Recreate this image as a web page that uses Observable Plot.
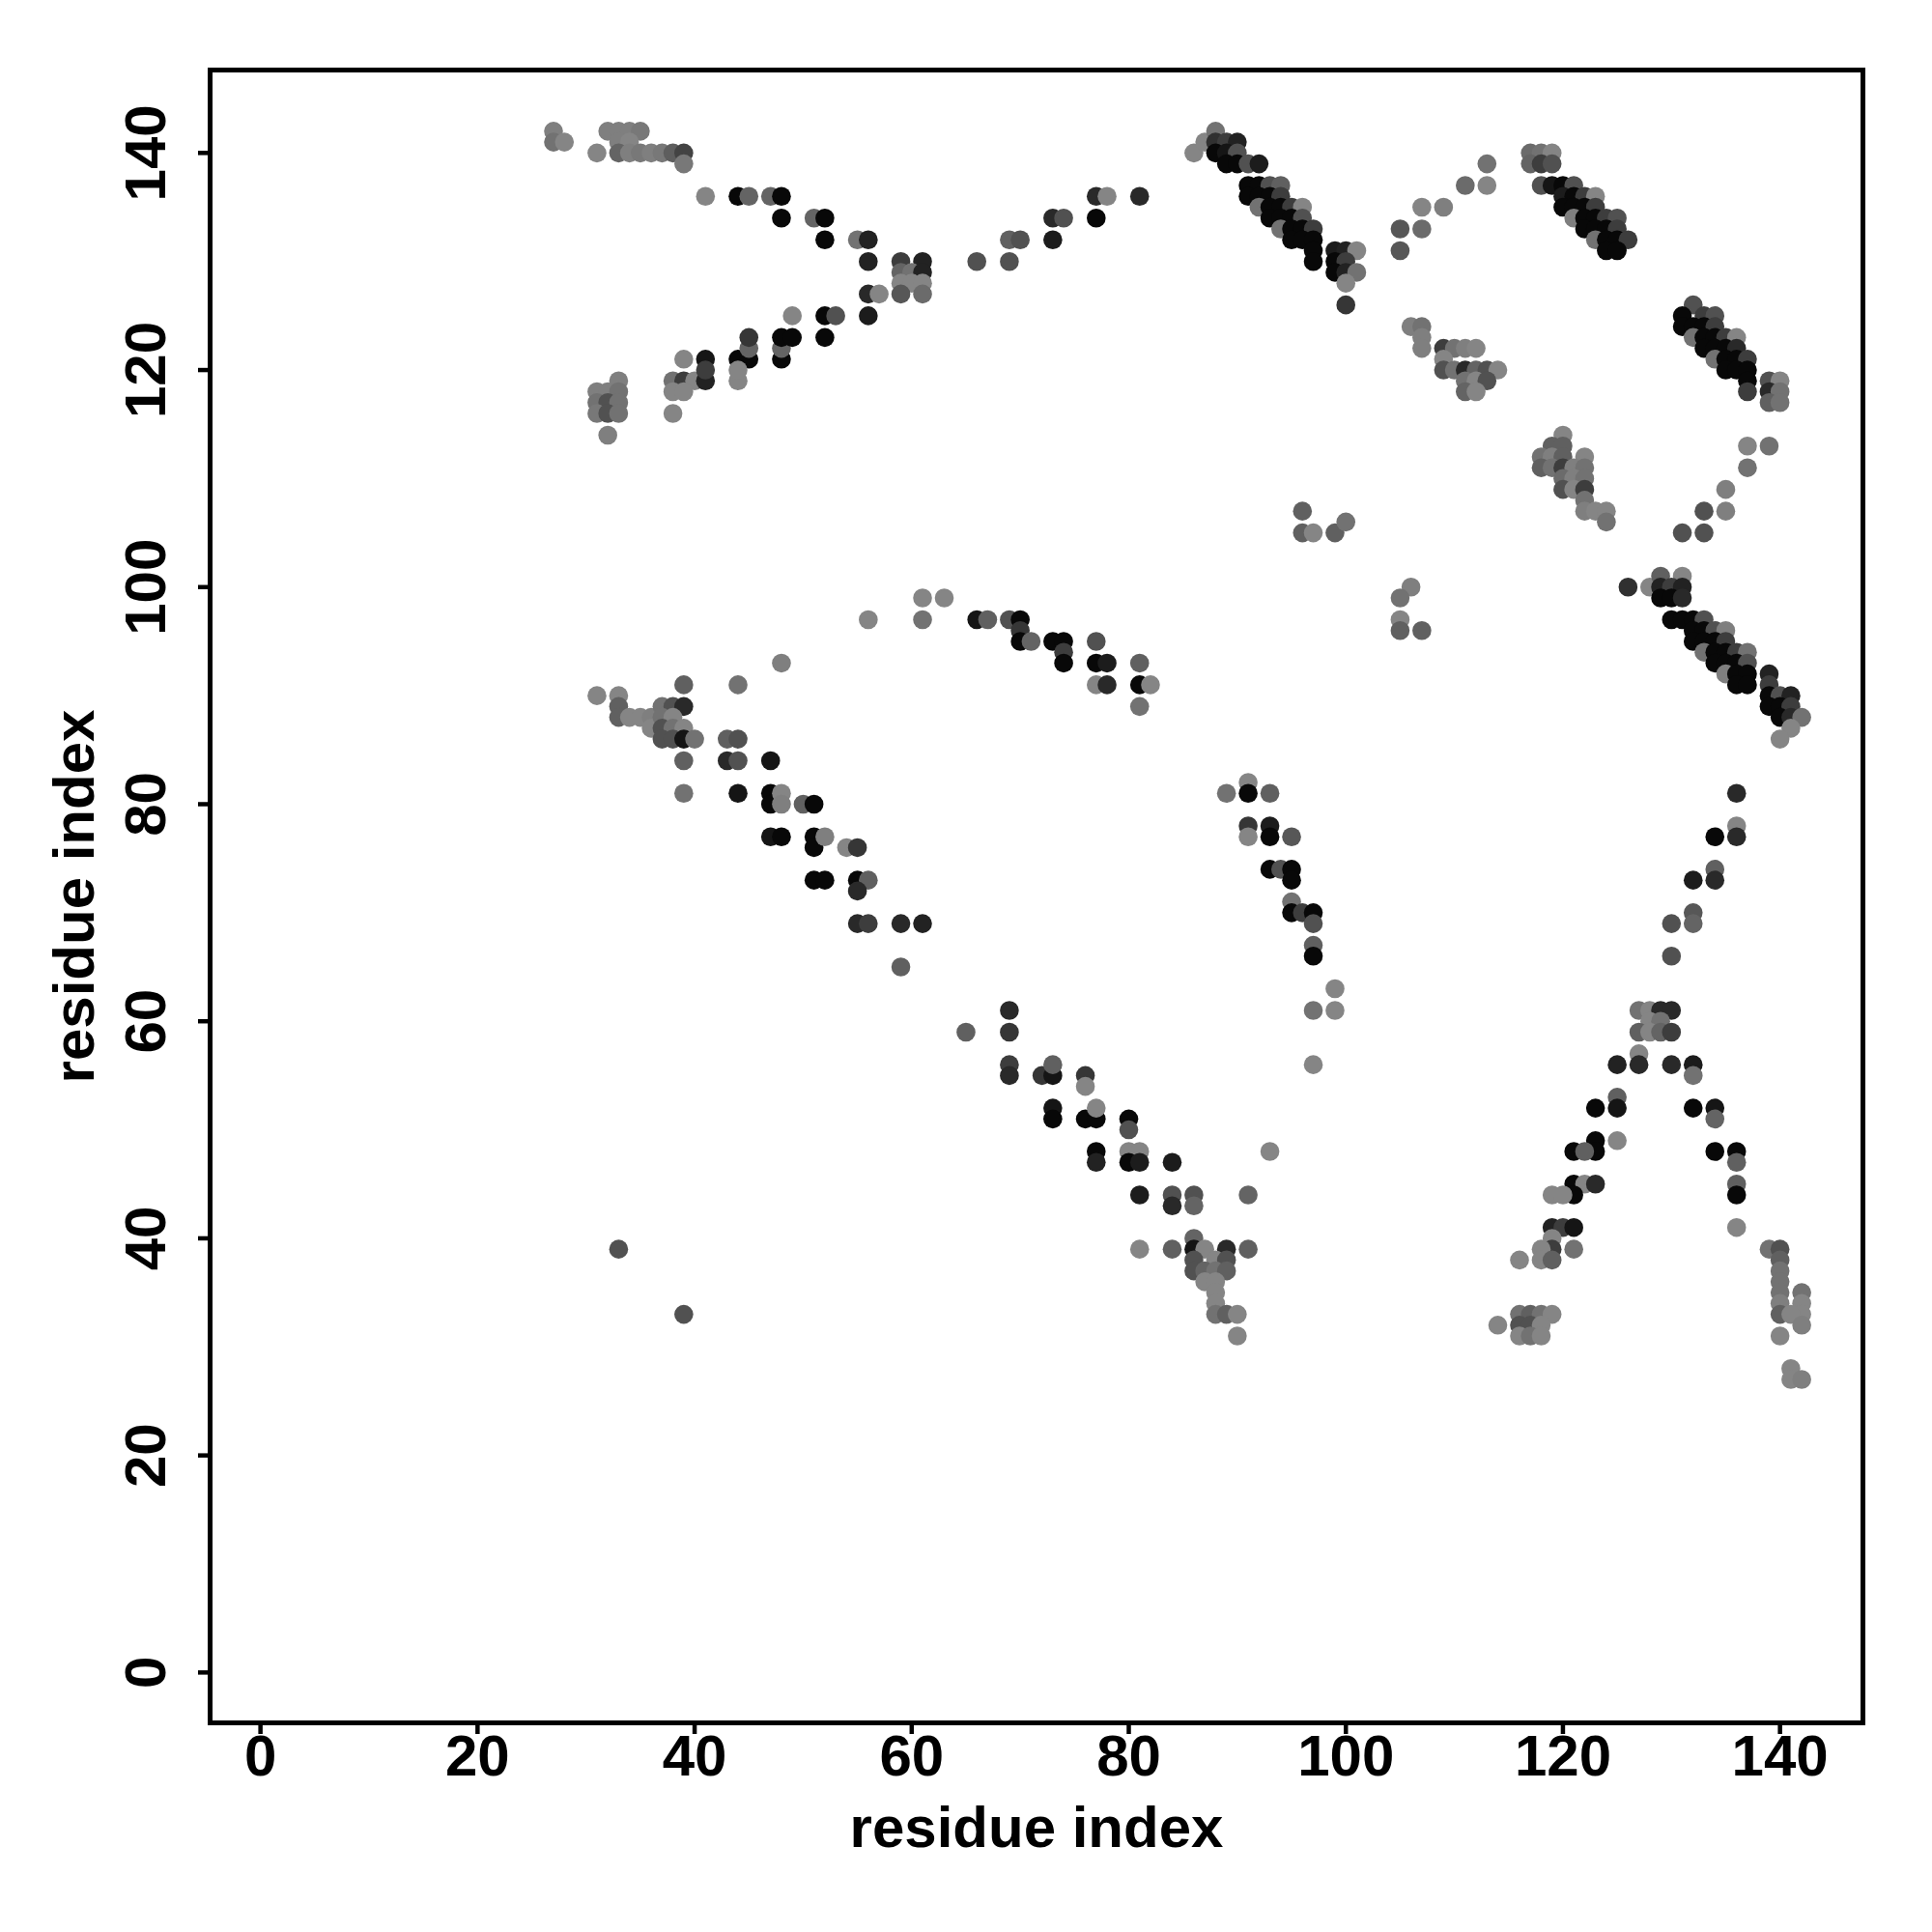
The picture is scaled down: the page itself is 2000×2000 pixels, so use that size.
<!DOCTYPE html>
<html>
<head>
<meta charset="utf-8">
<script src="https://cdn.jsdelivr.net/npm/d3@7"></script>
<script src="https://cdn.jsdelivr.net/npm/@observablehq/plot@0.6"></script>
<style>
  html, body { margin: 0; padding: 0; background: white; }
</style>
</head>
<body>
<div id="chart"></div>
<script>
// Contacts: [residue i, residue j, contact probability]
const topLeftStrand = [
  [27,142,.1],[27,141,.2],[28,141,.05],
  [32,142,.1],[33,142,.1],[34,142,.1],[35,142,.15],
  [33,141,.1],[34,141,.05],
  [31,140,.05],[33,140,.3],[34,140,.1],[35,140,.15],[36,140,.1],[37,140,.15],[38,140,.35],[39,140,.55],
  [39,139,.15],
  [41,136,.05],[44,136,1],[45,136,.3],[47,136,.3],[48,136,1],
  [48,134,1],[51,134,.3],[52,134,1],
  [52,132,1],[55,132,.2],[56,132,.8],
  [56,130,.8],[59,130,.6],[61,130,.8],
  [59,129,.3],[60,129,.2],[61,129,.8],
  [59,128,.05],[60,128,.05],[61,128,.05],
  [56,127,.75],[57,127,.05],[59,127,.4],[61,127,.25],
  [56,125,.85]
];
const risingStrand = [
  [33,119,.1],[31,118,.1],[32,118,.1],[33,118,.2],
  [31,117,.2],[32,117,.45],[33,117,.2],
  [31,116,.15],[32,116,.45],[33,116,.2],
  [32,114,.1],
  [38,119,.2],[39,119,.6],[40,119,.05],[41,119,.8],[44,119,.05],
  [38,118,.05],[39,118,.05],[38,116,.05],
  [39,121,.05],[41,121,.9],[44,121,1],[45,121,1],[48,121,1],
  [41,120,.6],[44,120,.05],
  [45,122,.3],[48,122,.3],
  [45,123,.65],[48,123,1],[49,123,1],[52,123,1],
  [49,125,.05],[52,125,1],[53,125,.45]
];
const topMiddle = [
  [66,130,.45],[69,130,.45],
  [69,132,.33],[70,132,.45],[73,132,.85],
  [73,134,.75],[74,134,.45],[77,134,1],
  [77,136,.75],[78,136,.05],[81,136,.75]
];
const helixTop = [
  [86,140,.05],[87,141,.05],[88,142,.2],
  [88,141,.7],[89,141,.6],[90,141,.8],
  [88,140,1],[89,140,.9],[90,140,.45],
  [89,139,1],[90,139,1],[91,139,.45],[92,139,.85],
  [91,137,1],[92,137,1],[93,137,.45],[94,137,.33],
  [91,136,1],[92,136,1],[93,136,1],[94,136,.6],
  [92,135,.2],[93,135,1],[94,135,1],[95,135,.6],[96,135,.05],
  [93,134,1],[94,134,1],[95,134,1],[96,134,.45],
  [94,133,.2],[95,133,1],[96,133,1],[97,133,.6],
  [95,132,1],[96,132,1],[97,132,1],
  [97,131,1],[99,131,.85],[100,131,.8],[101,131,.05],
  [97,130,1],[99,130,1],[100,130,.6],
  [99,129,1],[100,129,.8],[101,129,.2],
  [100,128,.05],[100,126,.65]
];
const upperArc = [
  [113,139,.2],[111,137,.25],[113,137,.05],[107,135,.05],[109,135,.1],
  [105,133,.4],[107,133,.25],[105,131,.4]
];
const clusterF = [
  [106,124,.1],[107,124,.2],[107,123,.1],[107,122,.1],[109,122,.6],[110,122,.2],[111,122,.1],[112,122,.05],
  [109,121,.05],[109,120,.45],[110,120,.2],[111,120,.75],[112,120,.3],[113,120,.45],[114,120,.05],
  [111,119,.2],[112,119,.05],[113,119,.45],[111,118,.3],[112,118,.05]
];
const helixG = [
  [117,140,.25],[118,140,.2],[119,140,.05],
  [117,139,.3],[118,139,.6],[119,139,.45],
  [118,137,.45],[119,137,.9],[120,137,1],[121,137,.45],
  [120,136,.85],[121,136,1],[122,136,.6],[123,136,.05],
  [120,135,1],[121,135,1],[122,135,1],[123,135,.6],
  [121,134,.1],[122,134,1],[123,134,1],[124,134,.6],[125,134,.45],
  [122,133,1],[123,133,1],[124,133,1],[125,133,.6],
  [123,132,.2],[124,132,1],[125,132,1],[126,132,.6],
  [124,131,1],[125,131,1]
];
const helixH = [
  [132,126,.45],[131,125,1],[133,125,.6],[134,125,.45],
  [131,124,1],[132,124,1],[133,124,1],[134,124,.6],
  [132,123,.2],[133,123,1],[134,123,1],[135,123,.6],[136,123,.05],
  [133,122,1],[134,122,1],[135,122,1],[136,122,.75],
  [134,121,.2],[135,121,1],[136,121,1],[137,121,.6],
  [135,120,1],[136,120,1],[137,120,1],
  [137,119,1],[137,118,.6],
  [139,119,.45],[140,119,.05],[139,118,.75],[140,118,.2],[139,117,.33],[140,117,.2]
];
const clusterI = [
  [120,114,.05],[119,113,.33],[120,113,.33],[118,112,.2],[119,112,.1],[120,112,.33],[122,112,.05],
  [118,111,.33],[119,111,.2],[120,111,.6],[121,111,.1],[122,111,.2],
  [120,110,.25],[121,110,.1],[122,110,.2],
  [120,109,.45],[121,109,.05],[122,109,.6],
  [122,108,.2],[122,107,.1],[123,107,.05],[124,107,.05],[124,106,.2]
];
const arcJ = [
  [137,113,.05],[139,113,.2],[137,111,.2],[135,109,.1],[133,107,.45],[135,107,.1],[131,105,.45],[133,105,.45]
];
const smallK = [
  [96,107,.33],[96,105,.33],[97,105,.05],[99,105,.33],[100,106,.2],
  [106,100,.1],[105,99,.2],[105,97,.05],[105,96,.33],[107,96,.33]
];
const helixM = [
  [126,100,.7],[128,100,.05],[129,101,.33],[131,101,.05],
  [129,100,.8],[130,100,.6],[131,100,.8],
  [129,99,1],[130,99,1],[131,99,.75],
  [130,97,1],[131,97,1],[132,97,1],[133,97,.45],
  [132,96,1],[133,96,1],[134,96,.45],[135,96,.1],
  [132,95,1],[133,95,1],[134,95,1],[135,95,.6],
  [133,94,.2],[134,94,1],[135,94,1],[136,94,.6],[137,94,.2],
  [134,93,1],[135,93,1],[136,93,1],[137,93,.45],
  [135,92,.1],[136,92,1],[137,92,1],[139,92,.8],
  [136,91,1],[137,91,1],[139,91,.6],
  [139,90,1],[140,90,.45],[141,90,.8],
  [139,89,1],[140,89,1],[141,89,.6],
  [140,88,1],[141,88,.75],[142,88,.2],
  [141,87,.05],[140,86,.05]
];
const middleN = [
  [56,97,.05],[61,99,.05],[63,99,.05],[61,97,.2],
  [66,97,.9],[67,97,.33],[69,97,.45],[70,97,1],
  [70,96,.65],[70,95,1],[71,95,.3],
  [73,95,1],[74,95,1],[74,94,.6],[74,93,1],
  [77,95,.45],[77,93,1],[78,93,.85],
  [77,91,.05],[78,91,.75],
  [81,93,.33],[81,91,1],[82,91,.05],[81,89,.2]
];
const strandO = [
  [48,93,.1],[39,91,.33],[44,91,.2],
  [31,90,.05],[33,90,.05],[33,89,.33],
  [33,88,.33],[34,88,.05],[35,88,.05],[36,88,.1],[36,87,.05],
  [37,89,.2],[38,89,.45],[39,89,.75],
  [37,88,.2],[38,88,.05],
  [37,87,.45],[38,87,.2],[39,87,.05],
  [37,86,.45],[38,86,.45],[39,86,.9],[40,86,.2],
  [39,84,.33],[43,86,.33],[44,86,.45],
  [43,84,.75],[44,84,.45],[47,84,.9],
  [39,81,.2],[44,81,.9],
  [47,81,1],[47,80,1],[48,81,.05],[48,80,.1],
  [50,80,.33],[51,80,1],
  [47,77,.9],[48,77,1],
  [51,77,1],[51,76,1],[52,77,.1],
  [54,76,.05],[55,76,.65],
  [51,73,1],[52,73,1],
  [55,73,1],[56,73,.33],[55,72,.75],
  [55,69,.75],[56,69,.6],[59,69,.75],[61,69,.8],
  [59,65,.33]
];
const strandP = [
  [69,61,.75],[65,59,.33],[69,59,.65],
  [69,56,.6],[69,55,.75],[72,55,.65],[73,55,.9],[73,56,.33],
  [76,55,.65],[76,54,.05],
  [73,52,.9],[73,51,1],
  [76,51,1],[77,51,1],[77,52,.05],
  [80,51,1],[80,50,.45],
  [77,48,1],[77,47,.8],
  [80,48,.05],[81,48,.05],[80,47,1],[81,47,.85],
  [84,47,.85],
  [81,44,.85],[84,44,.45],[84,43,.75],
  [81,39,.05],[84,39,.33],
  [86,44,.45],[86,43,.3],[91,44,.3],
  [86,40,.3],[86,39,.9],[87,39,.05],[89,39,.75],[91,39,.33],
  [86,38,.45],[88,38,.05],[89,38,.45],
  [86,37,.45],[87,37,.3],[88,37,.2],[89,37,.33],
  [87,36,.05],[88,36,.05],
  [88,35,.05],[88,34,.05],
  [88,33,.2],[89,33,.33],[90,33,.05],
  [90,31,.05],
  [93,48,.05],
  [33,39,.45],[39,33,.45]
];
const strandR = [
  [91,82,.05],[89,81,.2],[91,81,1],[93,81,.33],
  [91,78,.65],[91,77,.05],[93,78,.85],[93,77,1],[95,77,.4],
  [93,74,1],[94,74,.45],[95,74,1],[95,73,1],
  [95,71,.2],[95,70,1],[96,70,.6],[97,70,1],[97,69,.45],
  [97,67,.33],[97,66,1],
  [99,63,.05],[97,61,.2],[99,61,.05],[97,56,.05]
];
const hairpinS = [
  [136,81,.75],[136,78,.05],[136,77,.75],[134,77,1],
  [134,74,.33],[134,73,.75],[132,73,.85],
  [132,70,.4],[132,69,.3],[130,69,.45],
  [130,66,.45],
  [127,61,.2],[128,61,.05],[129,61,.75],[130,61,.75],
  [128,60,.05],[129,60,.2],
  [127,59,.33],[128,59,.05],[129,59,.3],[130,59,.6],
  [127,57,.05],[127,56,.75],[125,56,.8],[130,56,.75],[132,56,.85],[132,55,.2],
  [125,53,.33],[125,52,.9],[123,52,1],[132,52,1],[134,52,.9],[134,51,.3],
  [125,49,.05],
  [123,49,1],[123,48,1],[121,48,1],[122,48,.33],[134,48,1],[136,48,1],[136,47,.33],
  [121,45,1],[122,45,.05],[123,45,.75],[121,44,1],[119,44,.05],[120,44,.05],[136,45,.33],[136,44,1],
  [119,41,.8],[120,41,.6],[121,41,.9],[136,41,.05],
  [119,40,.05],[119,39,.6],[118,39,.05],[121,39,.2],
  [116,38,.05],[118,38,.05],[119,38,.33],
  [139,39,.2],[140,39,.45],
  [140,38,.33],[140,37,.2],[140,36,.2],[140,35,.2],[140,34,.1],[140,33,.33],
  [142,35,.2],[142,34,.05],[142,33,.05],[141,33,.05],[142,32,.1],
  [140,31,.05],[141,28,.05],[141,27,.05],[142,27,.1],
  [114,32,.05],[116,33,.2],[117,33,.33],[118,33,.2],[119,33,.05],
  [116,32,.45],[117,32,.45],[118,32,.05],
  [116,31,.05],[117,31,.2],[118,31,.05]
];
const xTicks = [0, 20, 40, 60, 80, 100, 120, 140];
const yTicks = [0, 20, 40, 60, 80, 100, 120, 140];
const axisTitle = "residue index";

const contacts = [
  topLeftStrand, risingStrand, topMiddle, helixTop, upperArc, clusterF, helixG, helixH,
  clusterI, arcJ, smallK, helixM, middleN, strandO, strandP, strandR, hairpinS
].flat().map(([i, j, p]) => ({i, j, p}));

const font = "'Liberation Sans', Arial, Helvetica, sans-serif";

const chart = Plot.plot({
  width: 2000,
  height: 2000,
  marginLeft: 217,
  marginRight: 72,
  marginTop: 72,
  marginBottom: 217,
  style: {background: "white", fontFamily: font, fontWeight: "bold", fontSize: "60px", color: "black"},
  x: {domain: [-4.64, 147.64]},
  y: {domain: [-4.64, 147.64]},
  color: {type: "linear", domain: [0, 1], range: ["#8c8c8c", "#080808"], interpolate: "rgb"},
  marks: [
    Plot.dot(contacts, {x: "i", y: "j", fill: "p", r: 9.8, stroke: null}),
    Plot.frame({stroke: "black", strokeWidth: 5}),
    Plot.axisX({
      ticks: xTicks, tickSize: 12, tickPadding: 0, strokeWidth: 4.5,
      fontSize: 60, fontWeight: "bold", fontFamily: font,
      label: axisTitle, labelAnchor: "center", labelArrow: "none", labelOffset: 128
    }),
    Plot.axisY({
      ticks: yTicks, tickSize: 12, tickPadding: 35, strokeWidth: 4.5,
      fontSize: 60, fontWeight: "bold", fontFamily: font,
      tickRotate: -90, textAnchor: "middle", lineAnchor: "bottom",
      label: axisTitle, labelAnchor: "center", labelArrow: "none", labelOffset: 163
    })
  ]
});
document.getElementById("chart").appendChild(chart);
</script>
</body>
</html>
